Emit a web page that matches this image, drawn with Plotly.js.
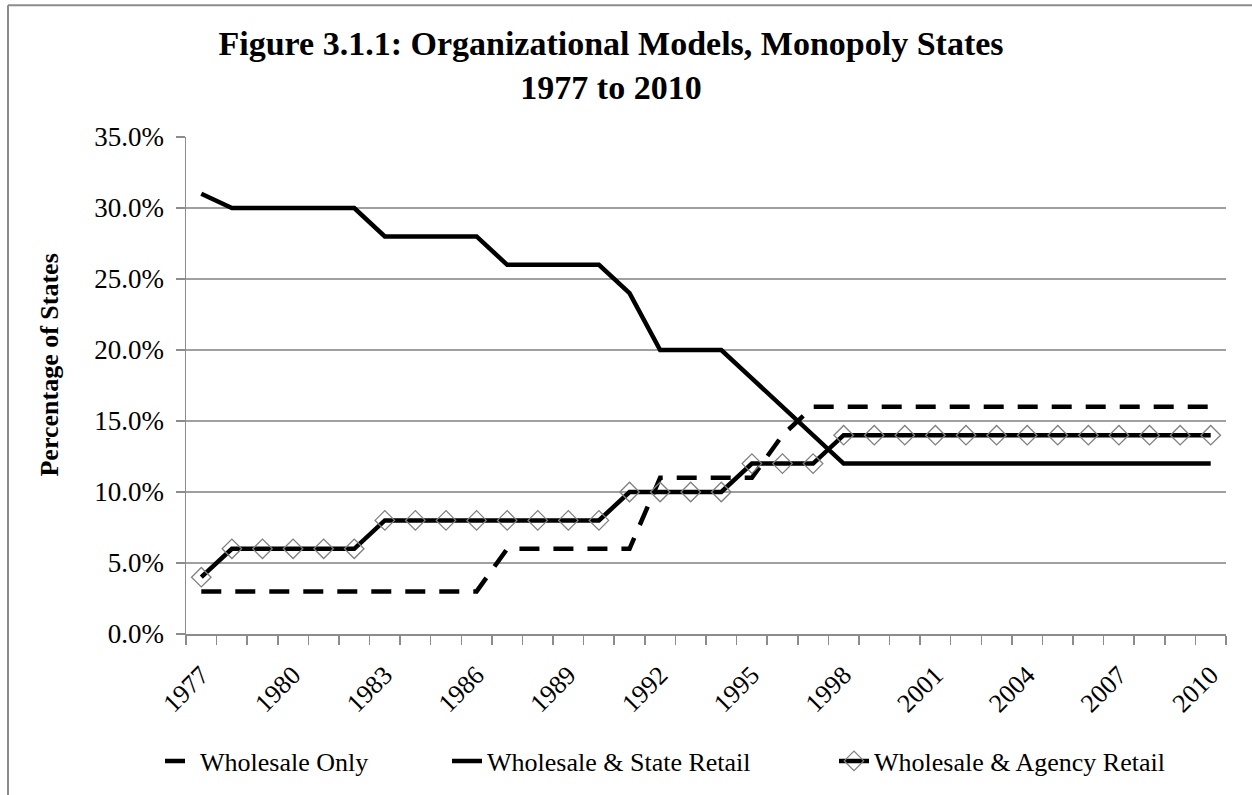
<!DOCTYPE html>
<html>
<head>
<meta charset="utf-8">
<script src="https://cdn.plot.ly/plotly-3.0.1.min.js"></script>
<style>
html, body { margin: 0; padding: 0; background: #fff; }
#chart { width: 1252px; height: 795px; }
</style>
</head>
<body>
<div id="chart"></div>
<script>
const years = [1977,1978,1979,1980,1981,1982,1983,1984,1985,1986,1987,1988,1989,1990,1991,1992,1993,1994,1995,1996,1997,1998,1999,2000,2001,2002,2003,2004,2005,2006,2007,2008,2009,2010];
const wholesaleOnly = [0.03,0.03,0.03,0.03,0.03,0.03,0.03,0.03,0.03,0.03,0.06,0.06,0.06,0.06,0.06,0.11,0.11,0.11,0.11,0.14,0.16,0.16,0.16,0.16,0.16,0.16,0.16,0.16,0.16,0.16,0.16,0.16,0.16,0.16];
const stateRetail = [0.31,0.30,0.30,0.30,0.30,0.30,0.28,0.28,0.28,0.28,0.26,0.26,0.26,0.26,0.24,0.20,0.20,0.20,0.18,0.16,0.14,0.12,0.12,0.12,0.12,0.12,0.12,0.12,0.12,0.12,0.12,0.12,0.12,0.12];
const agencyRetail = [0.04,0.06,0.06,0.06,0.06,0.06,0.08,0.08,0.08,0.08,0.08,0.08,0.08,0.08,0.10,0.10,0.10,0.10,0.12,0.12,0.12,0.14,0.14,0.14,0.14,0.14,0.14,0.14,0.14,0.14,0.14,0.14,0.14,0.14];
const seriesNames = ["Wholesale Only", "Wholesale & State Retail", "Wholesale & Agency Retail"];
const labelYears = [1977,1980,1983,1986,1989,1992,1995,1998,2001,2004,2007,2010];

const serif = "Liberation Serif, Times New Roman, serif";
const W = 1252, H = 795;
const mL = 186, mR = 26, mT = 137, mB = 160;
const pw = W - mL - mR, ph = H - mT - mB;
const px2x = p => (p - mL) / pw;
const py2y = p => (H - mB - p) / ph;

const traces = [
  { x: years, y: wholesaleOnly, name: seriesNames[0], type: "scatter", mode: "lines", legend: "legend",
    line: { color: "#000", width: 4.5, dash: "20px,14px" } },
  { x: years, y: stateRetail, name: seriesNames[1], type: "scatter", mode: "lines", legend: "legend2",
    line: { color: "#000", width: 4.5 } },
  { x: years, y: agencyRetail, name: seriesNames[2], type: "scatter", mode: "lines+markers", legend: "legend3",
    line: { color: "#000", width: 4.5 },
    marker: { symbol: "diamond-open", size: 15, color: "#7f7f7f", line: { width: 1.3, color: "#7f7f7f" } } }
];

const legendBase = (leftPx) => ({
  orientation: "h", x: px2x(leftPx), xanchor: "left", y: py2y(761), yanchor: "middle",
  font: { family: serif, size: 26, color: "#000" },
  bgcolor: "rgba(0,0,0,0)", borderwidth: 0
});

const layout = {
  width: W, height: H,
  margin: { l: mL, r: mR, t: mT, b: mB },
  paper_bgcolor: "#fff", plot_bgcolor: "#fff",
  font: { family: serif, color: "#000" },
  showlegend: true,
  title: {
    text: "<b>Figure 3.1.1: Organizational Models, Monopoly States<br>1977 to 2010</b>",
    font: { family: serif, size: 34, color: "#000" },
    x: 611 / W, xanchor: "center", y: 1 - 55 / H, yanchor: "top"
  },
  xaxis: {
    range: [1976.5, 2010.5],
    tickmode: "array", tickvals: labelYears, ticktext: labelYears.map(String),
    ticks: "", tickangle: -45, ticklabelstandoff: 14,
    tickfont: { family: serif, size: 26, color: "#000" },
    showgrid: false, zeroline: false,
    showline: true, linecolor: "#8c8c8c", linewidth: 1.5,
    minor: { tick0: 1976.5, dtick: 1, ticks: "outside", ticklen: 9, tickcolor: "#8c8c8c", tickwidth: 1.5, showgrid: false },
    fixedrange: true
  },
  yaxis: {
    range: [0, 0.35], dtick: 0.05, tick0: 0, tickformat: ".1%",
    ticks: "outside", ticklen: 9, tickcolor: "#8c8c8c", tickwidth: 1.5, ticklabelstandoff: 6,
    tickfont: { family: serif, size: 27, color: "#000" },
    showgrid: true, gridcolor: "#a0a0a0", gridwidth: 1.5,
    zeroline: false, showline: true, linecolor: "#8c8c8c", linewidth: 1.5,
    fixedrange: true
  },
  annotations: [
    { text: "<b>Percentage of States</b>", xref: "paper", yref: "paper", x: px2x(50), y: py2y(366),
      xanchor: "center", yanchor: "middle", textangle: -90, showarrow: false,
      font: { family: serif, size: 26, color: "#000" } }
  ],
  legend: legendBase(201 - 41),
  legend2: legendBase(488 - 41),
  legend3: legendBase(875 - 41),
  shapes: [
    { type: "line", xref: "paper", yref: "paper", x0: px2x(8), x1: px2x(8), y0: py2y(5), y1: py2y(800), line: { color: "#8c8c8c", width: 2 } },
    { type: "line", xref: "paper", yref: "paper", x0: px2x(8), x1: px2x(1260), y0: py2y(5), y1: py2y(5), line: { color: "#8c8c8c", width: 2 } }
  ]
};

Plotly.newPlot("chart", traces, layout, { displayModeBar: false, staticPlot: true });
</script>
</body>
</html>
